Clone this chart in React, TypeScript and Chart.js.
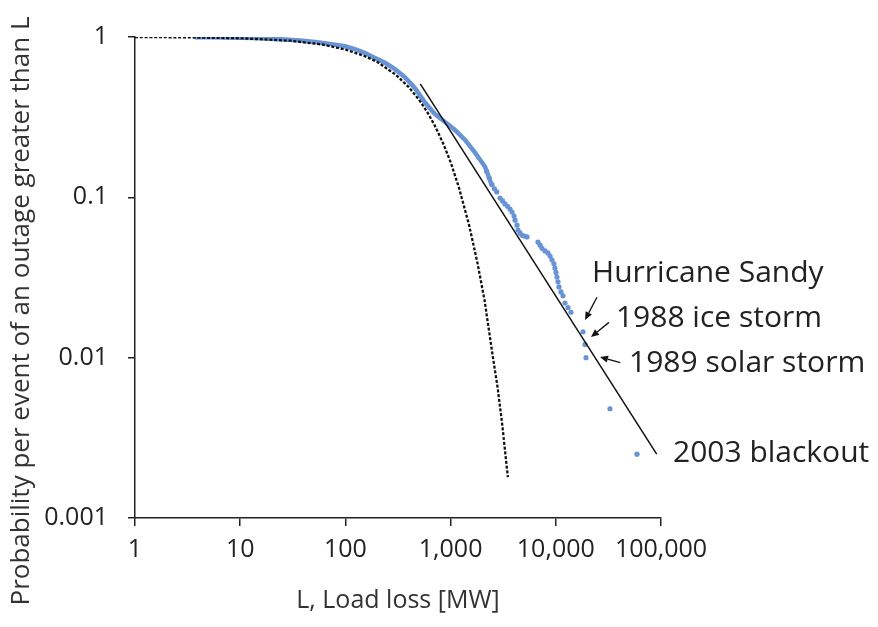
import React, { useEffect, useRef } from "react";
import { Chart, registerables } from "chart.js";

Chart.register(...registerables);

// ---- axis ticks ----
const xTickValues = [1, 10, 100, 1000, 10000, 100000];
const xTickLabels = ["1", "10", "100", "1,000", "10,000", "100,000"];
const yTickValues = [0.001, 0.01, 0.1, 1];
const yTickLabels = ["0.001", "0.01", "0.1", "1"];

const xTitle = "L, Load loss [MW]";
const yTitle = "Probability per event of an outage greater than L";

// ---- empirical outage data (dense part, drawn as a band) ----
const bandLoss = [3.7, 5.2, 7.2, 10, 13.8, 19.2, 26.7, 37, 51.4, 71.4, 99, 123, 154, 191, 238, 296, 369, 459, 571, 711, 885, 1101, 1371, 1706, 2124, 2476];
const bandProb = [0.997, 0.995, 0.993, 0.99, 0.985, 0.975, 0.965, 0.95, 0.93, 0.905, 0.875, 0.84, 0.795, 0.74, 0.69, 0.63, 0.56, 0.48, 0.39, 0.33, 0.295, 0.263, 0.228, 0.19, 0.155, 0.118];

// ---- empirical outage data (individual dots in the tail) ----
const dotLoss = [2200, 2330, 2476, 2610, 2750, 2951, 3120, 3289, 3480, 3672, 3837, 4010, 4095, 4276, 4372, 4570, 4775, 5040, 5325, 6770, 7100, 7390, 7890, 8430, 8810, 9200, 9610, 9820, 10040, 10260, 10490, 10720, 11200, 11700, 12230, 13060, 13940, 18140, 18960, 19370, 32730, 59100];
const dotProb = [0.145, 0.132, 0.12, 0.113, 0.108, 0.099, 0.095, 0.091, 0.088, 0.0845, 0.081, 0.0764, 0.072, 0.067, 0.0625, 0.06, 0.058, 0.0573, 0.0566, 0.0526, 0.0503, 0.0481, 0.0463, 0.045, 0.043, 0.0407, 0.0385, 0.0362, 0.034, 0.0318, 0.0297, 0.0276, 0.0257, 0.0243, 0.0219, 0.0205, 0.0192, 0.0145, 0.0121, 0.01, 0.0048, 0.0025];

// ---- exponential (dotted) fit ----
const expLoss = [1, 3, 10, 30, 60, 100, 150, 200, 300, 400, 500, 600, 700, 850, 1000, 1200, 1500, 1800, 2100, 2500, 2800, 3100, 3500];
const expProb = [1.0, 0.995, 0.982, 0.948, 0.898, 0.835, 0.764, 0.7, 0.583, 0.487, 0.407, 0.34, 0.284, 0.217, 0.166, 0.115, 0.067, 0.039, 0.0229, 0.0105, 0.0065, 0.0038, 0.0018];

// ---- power-law (solid) fit ----
const powLoss = [515, 91000];
const powProb = [0.51, 0.0025];

// ---- annotations ----
const annotText = ["Hurricane Sandy", "1988 ice storm", "1989 solar storm", "2003 blackout"];
const annotLoss = [22100, 37300, 49700, 130000];
const annotProb = [0.0337, 0.01766, 0.00925, 0.00254];

const arrowTailLoss = [24600, 32000, 41000];
const arrowTailProb = [0.0238, 0.0166, 0.0093];
const arrowHeadLoss = [18950, 21600, 26300];
const arrowHeadProb = [0.0172, 0.01344, 0.0101];

const FONT = "'Open Sans', 'Noto Sans', sans-serif";

const zip = (xs: number[], ys: number[]) => xs.map((x, i) => ({ x, y: ys[i] }));

const annotationPlugin = {
  id: "annotations",
  afterDraw(chart: any) {
    const { ctx, scales } = chart;
    const xs = scales.x;
    const ys = scales.y;
    ctx.save();
    // y-axis title (drawn manually so it can sit where the reference puts it)
    ctx.save();
    ctx.translate(22, 311);
    ctx.rotate(-Math.PI / 2);
    ctx.font = `26px ${FONT}`;
    ctx.fillStyle = "#333";
    ctx.textAlign = "center";
    ctx.textBaseline = "middle";
    ctx.fillText(yTitle, 0, 0);
    ctx.restore();

    ctx.fillStyle = "#222";
    ctx.font = `30px ${FONT}`;
    ctx.textBaseline = "middle";
    ctx.textAlign = "left";
    annotText.forEach((t, i) => {
      ctx.fillText(t, xs.getPixelForValue(annotLoss[i]), ys.getPixelForValue(annotProb[i]));
    });
    ctx.lineWidth = 1.3;
    ctx.strokeStyle = "#111";
    arrowTailLoss.forEach((_, i) => {
      const x1 = xs.getPixelForValue(arrowTailLoss[i]);
      const y1 = ys.getPixelForValue(arrowTailProb[i]);
      const x2 = xs.getPixelForValue(arrowHeadLoss[i]);
      const y2 = ys.getPixelForValue(arrowHeadProb[i]);
      const ang = Math.atan2(y2 - y1, x2 - x1);
      const hl = 8;
      const hw = 3.5;
      const bx = x2 - hl * Math.cos(ang);
      const by = y2 - hl * Math.sin(ang);
      ctx.beginPath();
      ctx.moveTo(x1, y1);
      ctx.lineTo(bx, by);
      ctx.stroke();
      ctx.beginPath();
      ctx.moveTo(x2, y2);
      ctx.lineTo(bx + hw * Math.sin(ang), by - hw * Math.cos(ang));
      ctx.lineTo(bx - hw * Math.sin(ang), by + hw * Math.cos(ang));
      ctx.closePath();
      ctx.fillStyle = "#111";
      ctx.fill();
    });
    ctx.restore();
  },
};

export default function App() {
  const ref = useRef<HTMLCanvasElement | null>(null);

  useEffect(() => {
    if (!ref.current) return;
    const blue = "rgb(104,147,212)";
    const chart = new Chart(ref.current, {
      type: "scatter",
      data: {
        datasets: [
          {
            label: "exponential",
            data: zip(expLoss, expProb),
            showLine: true,
            borderColor: "#111",
            borderWidth: 2.3,
            borderDash: [3, 1.8],
            pointRadius: 0,
            order: 0,
          },
          {
            label: "power law",
            data: zip(powLoss, powProb),
            showLine: true,
            borderColor: "#111",
            borderWidth: 1.5,
            pointRadius: 0,
            order: 1,
          },
          {
            label: "data band",
            data: zip(bandLoss, bandProb),
            showLine: true,
            borderColor: blue,
            borderWidth: 4.5,
            pointRadius: 0,
            order: 2,
          },
          {
            label: "data",
            data: zip(dotLoss, dotProb),
            showLine: false,
            backgroundColor: blue,
            borderWidth: 0,
            pointRadius: 2.6,
            order: 3,
          },
        ],
      },
      options: {
        animation: false,
        responsive: false,
        maintainAspectRatio: false,
        layout: { padding: { left: 0, top: 37, right: 217, bottom: 0 } },
        plugins: { legend: { display: false }, tooltip: { enabled: false } },
        scales: {
          x: {
            type: "logarithmic",
            min: 1,
            max: 100000,
            afterBuildTicks: (s: any) => {
              s.ticks = xTickValues.map((v) => ({ value: v }));
            },
            afterFit: (s: any) => {
              s.height = 109;
            },
            grid: { drawOnChartArea: false, drawTicks: true, tickLength: 8, color: "#222", lineWidth: 1.5 },
            border: { display: true, color: "#222", width: 1.5 },
            ticks: {
              autoSkip: false,
              maxRotation: 0,
              padding: 9,
              color: "#222",
              font: { family: FONT, size: 25 },
              callback: (v: any) => xTickLabels[xTickValues.indexOf(Number(v))] ?? "",
            },
            title: {
              display: true,
              text: xTitle,
              color: "#333",
              font: { family: FONT, size: 25 },
              padding: { top: 0, bottom: 11 },
            },
          },
          y: {
            type: "logarithmic",
            min: 0.001,
            max: 1,
            afterBuildTicks: (s: any) => {
              s.ticks = yTickValues.map((v) => ({ value: v }));
            },
            afterFit: (s: any) => {
              s.width = 135;
            },
            grid: { drawOnChartArea: false, drawTicks: true, tickLength: 7, color: "#222", lineWidth: 1.5 },
            border: { display: true, color: "#222", width: 1.5 },
            ticks: {
              autoSkip: false,
              padding: 20,
              color: "#222",
              font: { family: FONT, size: 25 },
              callback: (v: any) => yTickLabels[yTickValues.indexOf(Number(v))] ?? "",
            },
            title: { display: false },
          },
        },
      },
      plugins: [annotationPlugin],
    } as any);
    return () => chart.destroy();
  }, []);

  return (
    <div style={{ position: "fixed", left: 0, top: 0, width: 878, height: 627, background: "#fff" }}>
      <canvas ref={ref} width={878} height={627} style={{ width: 878, height: 627 }} />
    </div>
  );
}
